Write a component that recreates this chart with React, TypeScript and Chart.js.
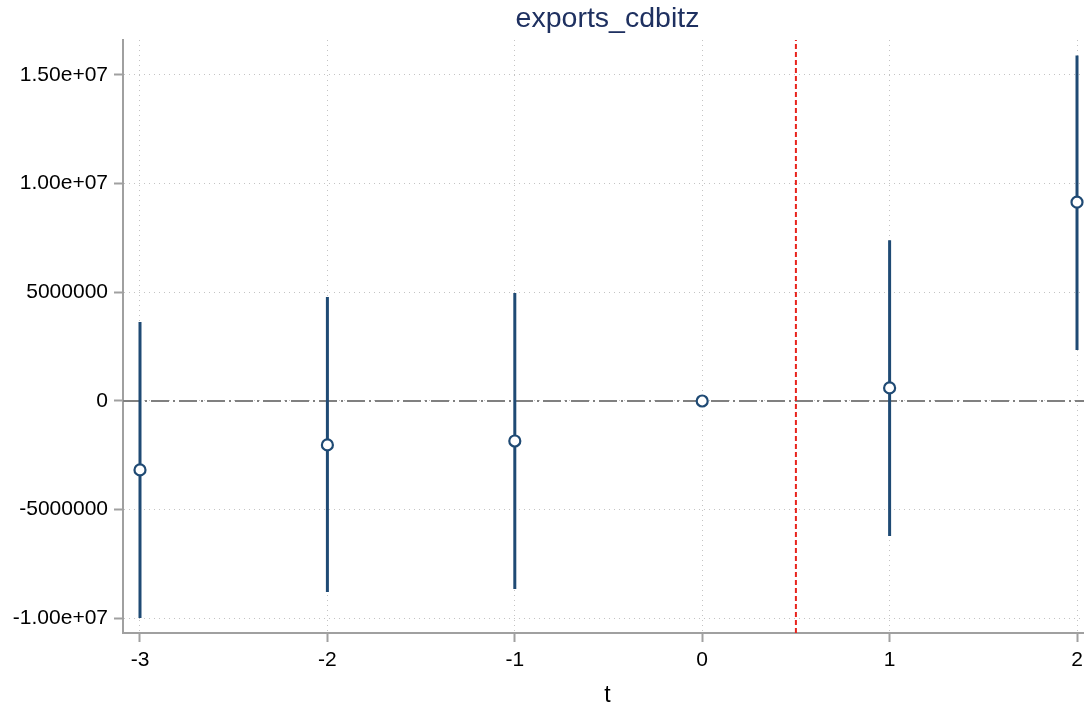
import React, { useEffect, useRef } from "react";
import { Chart, registerables } from "chart.js";

Chart.register(...registerables);

const periods = [-3, -2, -1, 0, 1, 2];
const estimates = [-3170000, -2020000, -1840000, 0, 600000, 9150000];
const ciLower = [-9980000, -8790000, -8650000, null, -6210000, 2350000];
const ciUpper = [3630000, 4780000, 4970000, null, 7400000, 15900000];
const yTickValues = [-10000000, -5000000, 0, 5000000, 10000000, 15000000];
const yTickLabels = ["-1.00e+07", "-5000000", "0", "5000000", "1.00e+07", "1.50e+07"];
const xTickLabels = ["-3", "-2", "-1", "0", "1", "2"];
const treatmentLine = 0.5;
const titleText = "exports_cdbitz";
const xAxisTitle = "t";

const X_MIN = -3.0907;
const X_MAX = 2.08;
const Y_MIN = -10675000;
const Y_MAX = 16610000;

const NAVY = "#1f4a74";
const FONT = "'Liberation Sans', Arial, Helvetica, sans-serif";

export default function App() {
  const ref = useRef<HTMLCanvasElement | null>(null);

  useEffect(() => {
    if (!ref.current) return;
    const ciSets = periods
      .map((p, i) => ({ p, lo: ciLower[i], hi: ciUpper[i] }))
      .filter((d) => d.lo !== null && d.hi !== null)
      .map((d) => ({
        type: "line" as const,
        data: [
          { x: d.p, y: d.lo as number },
          { x: d.p, y: d.hi as number },
        ],
        borderColor: NAVY,
        borderWidth: 3,
        pointRadius: 0,
        showLine: true,
        order: 2,
      }));

    const chart = new Chart(ref.current, {
      type: "scatter",
      data: {
        datasets: [
          {
            type: "scatter",
            data: periods.map((p, i) => ({ x: p, y: estimates[i] })),
            pointRadius: 5.5,
            pointBackgroundColor: "#ffffff",
            pointBorderColor: NAVY,
            pointBorderWidth: 2.2,
            order: 0,
          } as any,
          ...ciSets,
          {
            type: "line",
            data: [
              { x: X_MIN, y: 0 },
              { x: X_MAX, y: 0 },
            ],
            borderColor: "#808080",
            borderWidth: 2,
            borderDash: [18, 4, 2, 4],
            pointRadius: 0,
            showLine: true,
            order: 4,
          },
          {
            type: "line",
            data: [
              { x: treatmentLine, y: Y_MIN },
              { x: treatmentLine, y: Y_MAX },
            ],
            borderColor: "#e8231c",
            borderWidth: 2,
            borderDash: [5, 3],
            pointRadius: 0,
            showLine: true,
            order: 3,
          },
        ],
      },
      options: {
        animation: false,
        responsive: false,
        maintainAspectRatio: false,
        layout: { padding: 0, autoPadding: false } as any,
        plugins: {
          legend: { display: false },
          tooltip: { enabled: false },
          title: {
            display: true,
            text: titleText,
            color: "#1e3060",
            font: { family: FONT, size: 28.5, weight: "normal" },
            padding: { top: 2, bottom: 3.8 },
            fullSize: false,
          } as any,
        },
        scales: {
          x: {
            type: "linear",
            min: X_MIN,
            max: X_MAX,
            afterFit: (s: any) => {
              s.height = 75;
            },
            afterBuildTicks: (s: any) => {
              s.ticks = periods.map((v) => ({ value: v }));
            },
            ticks: {
              callback: (v: any) => {
                const i = periods.indexOf(Number(v));
                return i >= 0 ? xTickLabels[i] : "";
              },
              color: "#000000",
              font: { family: FONT, size: 21 },
              padding: 6,
              maxRotation: 0,
              autoSkip: false,
            },
            grid: {
              color: "#c4c4c4",
              lineWidth: 1,
              drawTicks: true,
              tickLength: 9,
              tickColor: "#a0a0a0",
              tickWidth: 2,
            } as any,
            border: { display: true, color: "#a0a0a0", width: 2, dash: [1, 4] } as any,
            title: {
              display: true,
              text: xAxisTitle,
              color: "#000000",
              font: { family: FONT, size: 23 },
              padding: { top: 0, bottom: -1 },
            },
          },
          y: {
            type: "linear",
            min: Y_MIN,
            max: Y_MAX,
            afterFit: (s: any) => {
              s.width = 123;
            },
            afterBuildTicks: (s: any) => {
              s.ticks = yTickValues.map((v) => ({ value: v }));
            },
            ticks: {
              callback: (v: any) => {
                const i = yTickValues.indexOf(Number(v));
                return i >= 0 ? yTickLabels[i] : "";
              },
              color: "#000000",
              font: { family: FONT, size: 21 },
              padding: 6,
              autoSkip: false,
            },
            grid: {
              color: "#c4c4c4",
              lineWidth: 1,
              drawTicks: true,
              tickLength: 9,
              tickColor: "#a0a0a0",
              tickWidth: 2,
            } as any,
            border: { display: true, color: "#a0a0a0", width: 2, dash: [1, 4] } as any,
          },
        },
      },
    });
    return () => chart.destroy();
  }, []);

  return (
    <div
      style={{
        position: "fixed",
        left: 0,
        top: 0,
        width: 1084,
        height: 708,
        overflow: "hidden",
        background: "#ffffff",
      }}
    >
      <canvas ref={ref} width={1092} height={708} style={{ width: 1092, height: 708, display: "block" }} />
    </div>
  );
}
